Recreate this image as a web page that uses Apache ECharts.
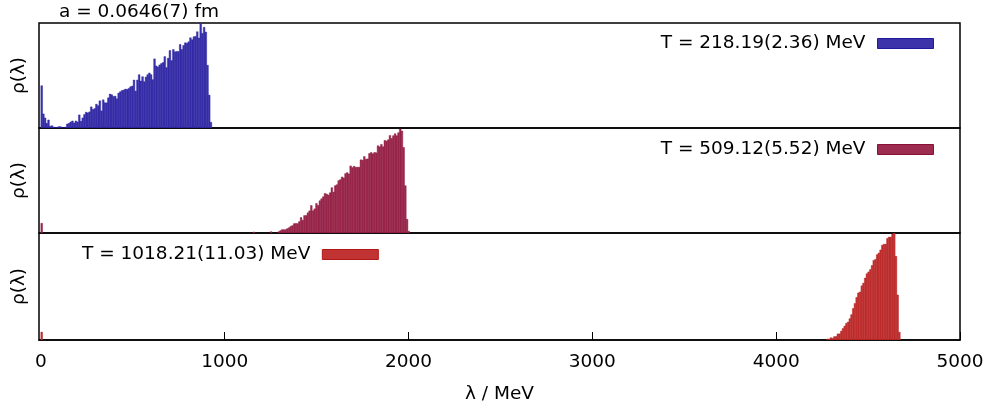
<!DOCTYPE html>
<html>
<head>
<meta charset="utf-8">
<script src="https://cdn.jsdelivr.net/npm/echarts@6/dist/echarts.min.js"></script>
<style>
html, body { margin: 0; padding: 0; background: #fff; }
#main { width: 987px; height: 412px; }
</style>
</head>
<body>
<div id="main"></div>
<script>
var binW = 9.3;

var names = ['T = 218.19(2.36) MeV', 'T = 509.12(5.52) MeV', 'T = 1018.21(11.03) MeV'];

var p1Start = 0;
var p1 = [126, 42, 30, 14, 24, 5, 7, 3, 2, 2, 4, 4, 1, 1, 3, 12, 14, 18, 21, 15,
          21, 18, 39, 20, 30, 40, 47, 45, 48, 63, 55, 58, 71, 66, 81, 51, 84, 75, 75, 90,
          101, 99, 94, 95, 87, 104, 108, 112, 113, 116, 115, 118, 123, 125, 143, 110, 143, 159, 140, 153,
          138, 152, 159, 164, 159, 144, 206, 185, 182, 188, 192, 195, 213, 180, 208, 231, 201, 234, 227, 228,
          228, 249, 234, 246, 254, 253, 257, 269, 263, 272, 273, 287, 268, 313, 282, 300, 286, 187, 98, 17];

var p2Start = 1290;
var p2 = [4, 7, 10, 10, 10, 13, 16, 20, 22, 28, 28, 28, 34, 46, 38, 52, 52, 60, 66, 82,
          66, 72, 88, 82, 96, 102, 108, 118, 116,
          113, 120, 135, 122, 141, 144, 156, 159, 167, 164, 177, 180, 176, 200, 195, 199, 196, 196, 196, 218,
          217, 228, 220, 221, 237, 240, 236, 240, 239, 260, 257, 264, 257, 276, 274, 278, 291, 282, 290, 296,
          290, 299, 310, 304, 255, 141, 41, 5];
// isolated small bins
var p2ExtraX = [0, 1155, 1248];
var p2ExtraY = [29, 3, 4];

var p3Start = 4275;
var p3 = [3, 3, 7, 5, 10, 10, 18, 18, 26, 34, 41, 49, 53, 63, 75, 93, 108, 126, 139, 142,
          160, 168, 183, 196, 201, 208, 220, 235, 238, 252, 257, 266, 280, 283, 283, 300, 304, 304, 313, 316,
          247, 133, 23];
var p3ExtraX = [0];
var p3ExtraY = [23];

var xTicks = [0, 1000, 2000, 3000, 4000, 5000];

var fills = ['#3c33ab', '#9c2c50', '#c13333'];
var borders = ['#221a9c', '#8a1038', '#b21818'];

function bins(start, vals, exX, exY) {
    var d = vals.map(function (v, i) { return [start + i * binW, v]; });
    (exX || []).forEach(function (x, i) { d.push([x, exY[i]]); });
    return d;
}

function histItem(k) {
    return function (params, api) {
        var x = api.value(0), h = api.value(1);
        var a = api.coord([x, 0]);
        var b = api.coord([x + binW, h]);
        return {
            type: 'rect',
            shape: { x: a[0], y: b[1], width: b[0] - a[0], height: a[1] - b[1] },
            style: { fill: fills[k], stroke: borders[k], lineWidth: 0.4 }
        };
    };
}

var font = 'DejaVu Sans';
var fs = 18.5;
var tops = [23, 128, 233];
var heights = [105, 105, 107];
var yMax = [313, 313, 316];
var data = [bins(p1Start, p1), bins(p2Start, p2, p2ExtraX, p2ExtraY), bins(p3Start, p3, p3ExtraX, p3ExtraY)];

var chart = echarts.init(document.getElementById('main'));

var grids = [], xAxes = [], yAxes = [], series = [], legends = [];
for (var k = 0; k < 3; k++) {
    grids.push({ left: 39, right: 27, top: tops[k], height: heights[k], outerBoundsMode: 'none',
                 show: true, borderColor: '#000', borderWidth: 1.5 });
    xAxes.push({
        gridIndex: k, type: 'value', min: -10, max: 5000,
        show: k === 2,
        axisLine: { show: true, lineStyle: { color: '#000', width: 1.5 } },
        axisTick: { show: true, inside: true, length: 8, customValues: xTicks, lineStyle: { color: '#000' } },
        axisLabel: { customValues: xTicks, fontSize: fs, fontFamily: font, color: '#000', margin: 13,
                     showMaxLabel: true, formatter: function (v) { return String(v); } },
        splitLine: { show: false },
        name: k === 2 ? 'λ / MeV' : '',
        nameLocation: 'middle', nameGap: 45,
        nameTextStyle: { fontSize: fs, fontFamily: font, color: '#000' }
    });
    yAxes.push({
        gridIndex: k, type: 'value', min: 0, max: yMax[k],
        axisLine: { show: false }, axisTick: { show: false }, axisLabel: { show: false },
        splitLine: { show: false },
        name: 'ρ(λ)', nameLocation: 'middle', nameGap: 10, nameRotate: 90,
        nameTextStyle: { fontSize: fs, fontFamily: font, color: '#000' }
    });
    series.push({
        name: names[k], type: 'custom', xAxisIndex: k, yAxisIndex: k,
        renderItem: histItem(k), data: data[k], clip: true,
        itemStyle: { color: fills[k] }, animation: false
    });
}

legends.push({ data: [names[0]], right: 53, top: 34 });
legends.push({ data: [names[1]], right: 53, top: 140 });
legends.push({ data: [names[2]], left: 82, top: 245 });
legends.forEach(function (l, k) {
    l.icon = 'rect';
    l.align = 'right';
    l.itemWidth = 56;
    l.itemHeight = 10;
    l.padding = 0;
    l.selectedMode = false;
    l.itemStyle = { borderColor: borders[k], borderWidth: 1 };
    l.textStyle = { fontSize: fs, fontFamily: font, color: '#000', padding: [0, 7, 0, 0] };
});

option = {
    animation: false,
    backgroundColor: '#fff',
    title: {
        text: 'a = 0.0646(7) fm', left: 59, top: 3, padding: 0,
        textStyle: { fontSize: fs, fontWeight: 'normal', fontFamily: font, color: '#000' }
    },
    legend: legends,
    grid: grids,
    xAxis: xAxes,
    yAxis: yAxes,
    series: series
};
chart.setOption(option);
</script>
</body>
</html>
